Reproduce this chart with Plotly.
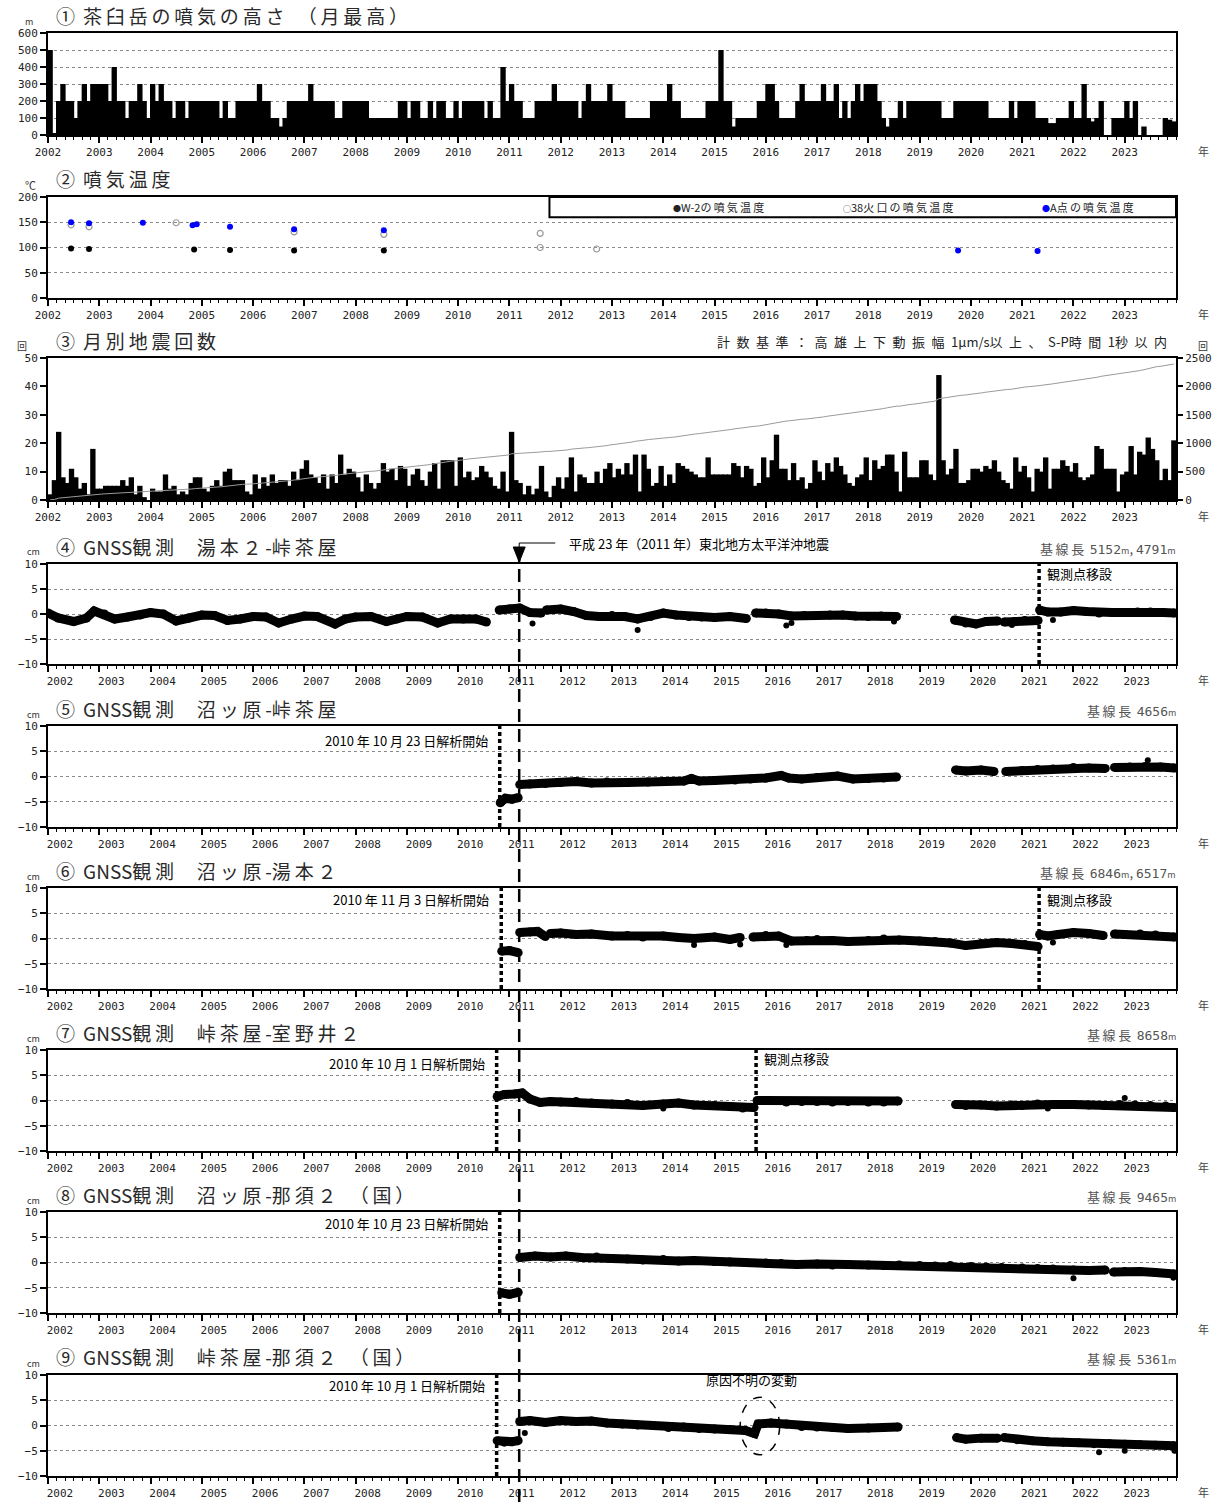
import plotly.graph_objects as go

# ---------------------------------------------------------------- geometry
W, H = 1223, 1503
XL, XR = 48, 1176                      # left / right edge of every plot frame (px)
PANELS_PX = [(33, 135), (197, 298), (358, 500), (564, 664), (726, 827),
             (888, 989), (1050, 1151), (1212, 1313), (1375, 1476)]
TITLE_Y = [15, 178, 340, 546, 708, 870, 1032, 1194, 1356]
X_RANGE = [2002, 2024]

YEARS = list(range(2002, 2024))
YEAR_LABELS = [str(y) for y in YEARS]

# ---------------------------------------------------------------- ① plume height (monthly max, m)
plume_height_m = [
    500, 10, 200, 300, 200, 200, 100, 200, 300, 200, 300, 300,   # 2002
    300, 300, 200, 400, 200, 200, 100, 200, 200, 300, 200, 100,  # 2003
    300, 200, 300, 200, 200, 100, 200, 200, 100, 200, 200, 200,  # 2004
    200, 200, 200, 200, 100, 200, 100, 100, 200, 200, 200, 200,  # 2005
    200, 300, 200, 200, 100, 100, 50, 100, 200, 200, 200, 200,   # 2006
    200, 300, 200, 200, 200, 200, 200, 100, 100, 200, 200, 200,  # 2007
    200, 200, 200, 100, 100, 100, 100, 100, 100, 100, 200, 200,  # 2008
    100, 200, 200, 100, 100, 200, 100, 200, 200, 100, 100, 200,  # 2009
    100, 200, 200, 200, 200, 200, 100, 200, 100, 100, 400, 200,  # 2010
    300, 200, 200, 100, 100, 100, 200, 200, 200, 200, 300, 200,  # 2011
    200, 200, 200, 200, 100, 200, 300, 200, 200, 200, 200, 300,  # 2012
    200, 200, 200, 100, 100, 100, 100, 100, 100, 200, 200, 200,  # 2013
    200, 300, 200, 200, 100, 100, 100, 100, 100, 100, 200, 200,  # 2014
    200, 500, 200, 200, 50, 100, 100, 100, 100, 100, 200, 200,   # 2015
    300, 300, 200, 100, 100, 100, 100, 200, 300, 200, 200, 200,  # 2016
    200, 300, 200, 200, 300, 100, 200, 100, 200, 300, 200, 300,  # 2017
    300, 300, 200, 100, 50, 100, 100, 200, 100, 200, 200, 200,   # 2018
    200, 200, 200, 200, 200, 100, 100, 100, 200, 200, 200, 200,  # 2019
    200, 200, 200, 200, 100, 100, 100, 100, 100, 200, 100, 200,  # 2020
    200, 200, 200, 100, 100, 100, 70, 70, 100, 100, 100, 200,    # 2021
    100, 100, 300, 100, 80, 100, 200, 0, 0, 100, 100, 100,       # 2022
    200, 100, 200, 0, 50, 0, 0, 0, 0, 100, 90, 80,               # 2023
]

# ---------------------------------------------------------------- ② fumarole temperature (°C)
w2_time = [2002.45, 2002.8, 2004.85, 2005.55, 2006.8, 2008.55]
w2_temp = [98, 97, 96, 95, 94, 94]
crater38_time = [2002.45, 2002.8, 2004.5, 2006.8, 2008.55, 2011.6, 2011.6, 2012.7]
crater38_temp = [145, 141, 149, 131, 126, 128, 100, 97]
pointA_time = [2002.45, 2002.8, 2003.85, 2004.82, 2004.9, 2005.55, 2006.8, 2008.55, 2019.75, 2021.3]
pointA_temp = [150, 148, 149, 144, 146, 141, 136, 134, 94, 93]

# ---------------------------------------------------------------- ③ monthly earthquake counts
quake_count = [
    2, 7, 24, 8, 6, 11, 8, 4, 6, 2, 18, 4,      # 2002
    4, 5, 5, 5, 5, 7, 5, 8, 2, 5, 1, 0,         # 2003
    4, 3, 3, 9, 4, 5, 2, 3, 2, 6, 8, 8,         # 2004
    4, 3, 5, 7, 5, 10, 11, 7, 7, 7, 3, 2,       # 2005
    9, 4, 8, 5, 9, 6, 7, 7, 5, 10, 7, 11,       # 2006
    14, 9, 8, 6, 9, 4, 9, 6, 16, 9, 11, 10,     # 2007
    8, 3, 9, 6, 4, 6, 13, 10, 11, 7, 12, 11,    # 2008
    5, 9, 11, 7, 5, 10, 13, 4, 14, 14, 14, 5,   # 2009
    15, 8, 10, 7, 8, 12, 10, 8, 5, 4, 10, 3,    # 2010
    24, 7, 6, 2, 5, 2, 4, 12, 3, 1, 5, 8,       # 2011
    4, 8, 15, 3, 9, 8, 6, 6, 10, 6, 11, 13,     # 2012
    8, 11, 9, 13, 9, 16, 3, 16, 11, 5, 6, 12,   # 2013
    5, 9, 6, 13, 12, 11, 10, 9, 8, 8, 15, 9,    # 2014
    9, 9, 9, 9, 13, 12, 8, 12, 11, 5, 6, 15,    # 2015
    8, 14, 23, 11, 11, 7, 13, 7, 8, 4, 6, 14,   # 2016
    10, 7, 13, 10, 15, 12, 9, 6, 5, 8, 9, 15,   # 2017
    7, 14, 11, 12, 16, 16, 10, 3, 17, 8, 8, 8,  # 2018
    14, 14, 9, 7, 44, 14, 9, 11, 18, 6, 6, 7,   # 2019
    11, 11, 10, 12, 11, 14, 10, 7, 6, 4, 15, 10,  # 2020
    12, 8, 3, 11, 10, 15, 4, 11, 11, 14, 12, 10,  # 2021
    13, 8, 7, 8, 9, 19, 18, 11, 11, 11, 3, 9,   # 2022
    10, 19, 9, 17, 16, 22, 18, 14, 7, 11, 7, 21,  # 2023
]

# ---------------------------------------------------------------- ④-⑨ GNSS baselines (cm); None = data gap
gnss_yumoto2_touge = [
    (2002.0, 0.2), (2002.2, -0.8), (2002.5, -1.5), (2002.75, -0.8), (2002.9, 0.6), (2003.1, 0.0),
    (2003.3, -1.0), (2003.55, -0.6), (2003.8, -0.2), (2004.0, 0.3), (2004.25, 0.0), (2004.5, -1.4),
    (2004.75, -0.8), (2005.0, -0.2), (2005.25, -0.3), (2005.5, -1.3), (2005.75, -1.0), (2006.0, -0.5),
    (2006.25, -0.6), (2006.5, -1.8), (2006.75, -1.0), (2007.0, -0.4), (2007.25, -0.5), (2007.6, -2.0),
    (2007.8, -1.0), (2008.0, -0.6), (2008.3, -0.5), (2008.6, -1.5), (2008.8, -1.0), (2009.0, -0.5),
    (2009.3, -0.6), (2009.6, -1.8), (2009.85, -1.0), (2010.1, -1.0), (2010.35, -1.0), (2010.55, -1.6),
    None,
    (2010.8, 0.8), (2011.0, 1.0), (2011.2, 1.2), (2011.4, 0.3), (2011.62, 0.2),
    None,
    (2011.72, 0.8), (2012.0, 1.0), (2012.25, 0.5), (2012.5, -0.3), (2012.75, -0.5), (2013.0, -0.3),
    (2013.25, -0.5), (2013.5, -1.0), (2013.75, -0.5), (2014.0, 0.2), (2014.25, -0.2), (2014.5, -0.5),
    (2014.75, -0.6), (2015.0, -0.7), (2015.3, -0.5), (2015.62, -0.9),
    None,
    (2015.8, 0.2), (2016.0, 0.2), (2016.25, 0.0), (2016.5, -0.4), (2016.75, -0.3), (2017.0, -0.3),
    (2017.25, -0.2), (2017.5, -0.2), (2017.75, -0.4), (2018.0, -0.5), (2018.25, -0.4), (2018.55, -0.5),
    None,
    (2019.68, -1.2), (2019.9, -1.8), (2020.1, -2.0), (2020.3, -1.5), (2020.52, -1.4),
    None,
    (2020.65, -1.6), (2020.85, -1.5), (2021.05, -1.3), (2021.31, -1.3),
    None,
    (2021.34, 0.8), (2021.5, 0.4), (2021.75, 0.4), (2022.0, 0.7), (2022.25, 0.5), (2022.5, 0.2),
    (2022.75, 0.3), (2023.0, 0.3), (2023.25, 0.4), (2023.5, 0.4), (2023.75, 0.3), (2023.97, 0.2),
]
gnss_yumoto2_touge_outliers = [(2011.45, -1.9), (2013.5, -3.2), (2016.4, -2.3), (2016.5, -1.8),
                               (2018.5, -1.5), (2020.8, -2.2), (2021.6, -1.2)]

gnss_numappara_touge = [
    (2010.82, -5.2), (2010.92, -4.3), (2011.05, -4.5), (2011.17, -4.2),
    None,
    (2011.2, -1.6), (2011.4, -1.5), (2011.7, -1.4), (2012.0, -1.2), (2012.3, -1.0), (2012.6, -1.3),
    (2012.9, -1.1), (2013.3, -1.2), (2013.7, -1.1), (2014.0, -1.0), (2014.4, -0.9), (2014.55, -0.4),
    (2014.7, -0.9), (2015.0, -0.8), (2015.4, -0.7), (2015.7, -0.5), (2016.0, -0.3), (2016.3, 0.2),
    (2016.45, -0.3), (2016.7, -0.5), (2017.0, -0.2), (2017.4, 0.1), (2017.7, -0.5), (2018.0, -0.4),
    (2018.3, -0.3), (2018.55, -0.1),
    None,
    (2019.7, 1.3), (2019.9, 1.1), (2020.2, 1.3), (2020.45, 1.0),
    None,
    (2020.68, 1.0), (2021.0, 1.2), (2021.3, 1.4), (2021.6, 1.5), (2022.0, 1.8), (2022.3, 1.7),
    (2022.62, 1.6),
    None,
    (2022.8, 1.8), (2023.1, 1.9), (2023.4, 2.0), (2023.7, 1.9), (2023.97, 1.7),
]
gnss_numappara_touge_outliers = [(2023.45, 3.2)]

gnss_numappara_yumoto2 = [
    (2010.85, -2.5), (2011.0, -2.4), (2011.17, -2.8),
    None,
    (2011.2, 1.2), (2011.4, 1.3), (2011.55, 1.4), (2011.7, 0.4),
    None,
    (2011.8, 1.0), (2012.0, 1.1), (2012.3, 0.8), (2012.6, 0.9), (2013.0, 0.5), (2013.3, 0.6),
    (2013.6, 0.3), (2014.0, 0.5), (2014.3, 0.2), (2014.6, 0.0), (2015.0, 0.3), (2015.3, -0.2),
    (2015.5, 0.2),
    None,
    (2015.75, 0.3), (2016.0, 0.6), (2016.25, 0.5), (2016.5, -0.5), (2016.8, -0.4), (2017.0, -0.2),
    (2017.3, -0.4), (2017.6, -0.6), (2018.0, -0.4), (2018.3, -0.1), (2018.6, -0.3), (2019.0, -0.5),
    (2019.3, -0.6), (2019.6, -0.9), (2019.9, -1.4), (2020.2, -1.0), (2020.5, -0.8), (2020.8, -1.0),
    (2021.05, -1.2), (2021.31, -1.6),
    None,
    (2021.34, 0.8), (2021.5, 0.5), (2021.7, 0.8), (2022.0, 1.2), (2022.3, 1.0), (2022.58, 0.6),
    None,
    (2022.8, 0.9), (2023.0, 0.8), (2023.3, 0.9), (2023.6, 0.7), (2023.97, 0.3),
]
gnss_numappara_yumoto2_outliers = [(2014.6, -1.3), (2015.5, -1.2), (2016.4, -1.3), (2021.6, -0.8)]

gnss_touge_muronoi2 = [
    (2010.76, 0.8), (2010.9, 1.2), (2011.1, 1.3), (2011.25, 1.5), (2011.4, 0.3), (2011.6, -0.4),
    (2011.8, -0.2), (2012.0, -0.3), (2012.3, -0.2), (2012.6, -0.5), (2013.0, -0.7), (2013.3, -0.6),
    (2013.6, -1.0), (2014.0, -0.7), (2014.3, -0.5), (2014.6, -0.9), (2015.0, -1.0), (2015.3, -1.2),
    (2015.55, -1.5), (2015.77, -1.4),
    None,
    (2015.83, 0.0), (2016.1, 0.0), (2016.4, -0.3), (2016.7, -0.2), (2017.0, -0.2), (2017.3, -0.3),
    (2017.6, -0.2), (2018.0, -0.3), (2018.3, -0.3), (2018.58, -0.1),
    None,
    (2019.7, -0.8), (2019.9, -1.0), (2020.2, -0.9), (2020.5, -1.1), (2020.8, -0.9), (2021.0, -1.0),
    (2021.3, -0.7), (2021.6, -0.8), (2022.0, -0.8), (2022.3, -0.9), (2022.6, -1.0), (2022.9, -0.8),
    (2023.2, -0.9), (2023.5, -1.0), (2023.8, -1.1), (2023.97, -1.4),
]
gnss_touge_muronoi2_outliers = [(2014.0, -1.6), (2021.5, -1.6), (2023.0, 0.5)]

gnss_numappara_nasu2 = [
    (2010.85, -6.0), (2011.0, -6.3), (2011.17, -5.9),
    None,
    (2011.2, 1.0), (2011.5, 1.3), (2011.8, 1.1), (2012.1, 1.3), (2012.4, 1.0), (2012.7, 1.1),
    (2013.0, 0.8), (2013.3, 0.7), (2013.6, 0.5), (2014.0, 0.6), (2014.3, 0.3), (2014.6, 0.4),
    (2015.0, 0.2), (2015.3, 0.1), (2015.6, 0.0), (2016.0, -0.1), (2016.3, -0.2), (2016.6, -0.4),
    (2017.0, -0.3), (2017.3, -0.5), (2017.6, -0.4), (2018.0, -0.5), (2018.3, -0.6), (2018.6, -0.5),
    (2019.0, -0.6), (2019.3, -0.7), (2019.6, -0.6), (2020.0, -0.8), (2020.3, -0.9), (2020.6, -1.0),
    (2021.0, -1.1), (2021.3, -1.2), (2021.6, -1.3), (2022.0, -1.5), (2022.3, -1.6), (2022.62, -1.5),
    None,
    (2022.78, -1.9), (2023.0, -1.8), (2023.3, -1.8), (2023.6, -2.0), (2023.97, -2.3),
]
gnss_numappara_nasu2_outliers = [(2022.0, -3.1), (2023.95, -3.0)]

gnss_touge_nasu2 = [
    (2010.76, -3.0), (2010.9, -3.3), (2011.05, -3.2), (2011.17, -3.0),
    None,
    (2011.2, 0.8), (2011.4, 1.0), (2011.7, 0.6), (2012.0, 1.0), (2012.3, 0.8), (2012.6, 0.9),
    (2012.9, 0.5), (2013.2, 0.3), (2013.5, 0.1), (2013.8, 0.0), (2014.1, -0.4), (2014.4, -0.3),
    (2014.7, -0.6), (2015.0, -0.7), (2015.3, -0.8), (2015.6, -1.0), (2015.78, -1.6), (2015.85, 0.3),
    (2016.1, 0.5), (2016.4, 0.3), (2016.7, -0.2), (2017.0, -0.3), (2017.3, -0.4), (2017.6, -0.6),
    (2018.0, -0.5), (2018.3, -0.4), (2018.58, -0.3),
    None,
    (2019.72, -2.4), (2019.9, -2.7), (2020.2, -2.5), (2020.52, -2.5),
    None,
    (2020.65, -2.4), (2020.9, -2.8), (2021.2, -3.0), (2021.5, -3.2), (2021.8, -3.3), (2022.1, -3.4),
    (2022.4, -3.6), (2022.7, -3.6), (2023.0, -3.7), (2023.3, -3.8), (2023.6, -3.9), (2023.97, -4.0),
]
gnss_touge_nasu2_outliers = [(2011.3, -1.5), (2022.5, -5.3), (2023.0, -5.0), (2023.97, -5.0)]

# key dates (decimal years)
quake_2011 = 2011.19            # 2011-03-11
start_oct01 = 2010.75           # 2010-10-01
start_oct23 = 2010.81           # 2010-10-23
start_nov03 = 2010.84           # 2010-11-03
relocation_2015 = 2015.81
relocation_2021 = 2021.33

# ---------------------------------------------------------------- helpers
def py(p):
    return 1 - p / H


def date_to_paper(t):
    return (XL + (t - X_RANGE[0]) / (X_RANGE[1] - X_RANGE[0]) * (XR - XL)) / W


def split_xy(pairs):
    xs, ys = [], []
    for p in pairs:
        if p is None:
            xs.append(None)
            ys.append(None)
        else:
            xs.append(p[0])
            ys.append(p[1])
    return xs, ys


def spaced(text, gap="\u2002"):
    """Open up the letter spacing after full-width characters."""
    out = []
    for ch in text:
        out.append(ch)
        if ord(ch) > 0x2400 and ch != "\u3000":
            out.append(gap)
    return "".join(out)


month_x = [y + (m + 0.5) / 12 for y in YEARS for m in range(12)]
cumulative = []
total = 0
for c in quake_count:
    total += c
    cumulative.append(total)

TICK_FONT = dict(family="DejaVu Sans Mono", size=11, color="#222")
YTICK_FONT = dict(family="DejaVu Sans Mono", size=11, color="#222")
JP = "Noto Sans CJK JP"
BAR_W = 1 / 12 * 1.25           # slight overlap so neighbouring months merge

fig = go.Figure()


def ax(n):
    return "" if n == 1 else str(n)


layout_axes = {}
for i, (top, bot) in enumerate(PANELS_PX, start=1):
    gnss = i >= 4
    layout_axes["xaxis" + ax(i)] = dict(
        domain=[XL / W, XR / W], range=X_RANGE, anchor="y" + ax(i), automargin=False,
        tickmode="array", tickvals=YEARS, ticktext=YEAR_LABELS,
        ticks="outside", ticklen=6, tickwidth=1.5, tickcolor="black",
        ticklabelshift=12 if gnss else 0,
        showline=True, linewidth=2, linecolor="black", mirror=True,
        showgrid=False, zeroline=False, tickfont=TICK_FONT,
        minor=dict(tick0=2002, dtick=1 / 6, ticks="outside", ticklen=3,
                   tickwidth=1, tickcolor="black", showgrid=False),
    )
    if i == 1:
        yr, yt = [0, 600], list(range(0, 601, 100))
    elif i == 2:
        yr, yt = [0, 200], list(range(0, 201, 50))
    elif i == 3:
        yr, yt = [0, 50], list(range(0, 51, 10))
    else:
        yr, yt = [-10, 10], [-10, -5, 0, 5, 10]
    layout_axes["yaxis" + ax(i)] = dict(
        domain=[py(bot), py(top)], range=yr, anchor="x" + ax(i), automargin=False,
        tickmode="array", tickvals=yt,
        ticks="outside", ticklen=6, tickwidth=1.5, tickcolor="black",
        showline=True, linewidth=2, linecolor="black", mirror=True,
        showgrid=(i != 3), gridcolor="#8a8a8a", griddash="dot", gridwidth=1,
        zeroline=False, tickfont=YTICK_FONT,
    )

layout_axes["yaxis10"] = dict(
    domain=layout_axes["yaxis3"]["domain"], range=[0, 2500], overlaying="y3", automargin=False,
    anchor="x3", side="right", tickmode="array", tickvals=list(range(0, 2501, 500)),
    ticks="outside", ticklen=6, tickwidth=1.5, tickcolor="black",
    showline=False, showgrid=False, zeroline=False, tickfont=YTICK_FONT,
)

# ① plume height bars
fig.add_trace(go.Bar(x=month_x, y=plume_height_m, width=BAR_W, marker=dict(color="black", line=dict(width=0)),
                     xaxis="x", yaxis="y"))

# ② temperatures
fig.add_trace(go.Scatter(x=crater38_time, y=crater38_temp, mode="markers", xaxis="x2", yaxis="y2",
                         marker=dict(symbol="circle-open", size=6, color="#9a9a9a", line=dict(width=1.2))))
fig.add_trace(go.Scatter(x=w2_time, y=w2_temp, mode="markers", xaxis="x2", yaxis="y2",
                         marker=dict(size=6, color="black")))
fig.add_trace(go.Scatter(x=pointA_time, y=pointA_temp, mode="markers", xaxis="x2", yaxis="y2",
                         marker=dict(size=6, color="#0000ff")))

# ③ earthquake counts + cumulative
fig.add_trace(go.Bar(x=month_x, y=quake_count, width=BAR_W, marker=dict(color="black", line=dict(width=0)),
                     xaxis="x3", yaxis="y3"))
fig.add_trace(go.Scatter(x=month_x, y=cumulative, mode="lines", xaxis="x3", yaxis="y10",
                         line=dict(color="#9a9a9a", width=1)))

# ④-⑨ GNSS baselines
gnss_sets = [
    (gnss_yumoto2_touge, gnss_yumoto2_touge_outliers),
    (gnss_numappara_touge, gnss_numappara_touge_outliers),
    (gnss_numappara_yumoto2, gnss_numappara_yumoto2_outliers),
    (gnss_touge_muronoi2, gnss_touge_muronoi2_outliers),
    (gnss_numappara_nasu2, gnss_numappara_nasu2_outliers),
    (gnss_touge_nasu2, gnss_touge_nasu2_outliers),
]
for k, (series, outl) in enumerate(gnss_sets):
    n = k + 4
    xs, ys = split_xy(series)
    fig.add_trace(go.Scatter(x=xs, y=ys, mode="lines+markers", connectgaps=False,
                             xaxis="x" + ax(n), yaxis="y" + ax(n),
                             line=dict(color="black", width=9), marker=dict(color="black", size=9)))
    ox, oy = split_xy(outl)
    fig.add_trace(go.Scatter(x=ox, y=oy, mode="markers", xaxis="x" + ax(n), yaxis="y" + ax(n),
                             marker=dict(color="black", size=6)))

# ---------------------------------------------------------------- annotations
ann = []
titles = [
    "① 茶臼岳の噴気の高さ　（月最高）",
    "② 噴気温度",
    "③ 月別地震回数",
    "④ GNSS観測　湯本２-峠茶屋",
    "⑤ GNSS観測　沼ッ原-峠茶屋",
    "⑥ GNSS観測　沼ッ原-湯本２",
    "⑦ GNSS観測　峠茶屋-室野井２",
    "⑧ GNSS観測　沼ッ原-那須２　（国）",
    "⑨ GNSS観測　峠茶屋-那須２　（国）",
]
for t, yc in zip(titles, TITLE_Y):
    ann.append(dict(x=54 / W, y=py(yc), xref="paper", yref="paper", text=spaced(t, "\u2009"),
                    showarrow=False, xanchor="left", yanchor="middle",
                    font=dict(family=JP, size=19, color="#2a2a2a")))

units = [("m", 29, 21, 9), ("℃", 30, 185, 11), ("回", 22, 346, 10)]
for (top, bot) in PANELS_PX[3:]:
    units.append(("cm", 33, top - 12, 9))
for txt, x, y, s in units:
    ann.append(dict(x=x / W, y=py(y), xref="paper", yref="paper", text=txt, showarrow=False,
                    xanchor="center", yanchor="middle", font=dict(family=JP, size=s, color="#333")))
ann.append(dict(x=1203 / W, y=py(346), xref="paper", yref="paper", text="回", showarrow=False,
                xanchor="center", yanchor="middle", font=dict(family=JP, size=10, color="#333")))

for (top, bot) in PANELS_PX:
    ann.append(dict(x=1203 / W, y=py(bot + 16), xref="paper", yref="paper", text="年", showarrow=False,
                    xanchor="center", yanchor="middle", font=dict(family=JP, size=11, color="#444")))

ann.append(dict(x=1176 / W, y=py(341), xref="paper", yref="paper",
                text=spaced("計数基準：高雄上下動振幅1μm/s以上、S-P時間1秒以内"), showarrow=False,
                xanchor="right", yanchor="middle", font=dict(family=JP, size=13, color="#222")))

# legend box of ②
DOT = "<span style='font-size:8px'>●</span>"
legend_items = [(DOT + spaced("W-2の噴気温度", "\u2009"), 2015.1),
                ("<span style='font-size:8px'>○</span>" + spaced("38火口の噴気温度", "\u2009"), 2018.6),
                ("<span style='font-size:8px;color:#0000ff'>●</span>" + spaced("A点の噴気温度", "\u2009"), 2022.3)]
for txt, xc in legend_items:
    ann.append(dict(x=xc, y=180, xref="x2", yref="y2", text=txt, showarrow=False,
                    xanchor="center", yanchor="middle", font=dict(family=JP, size=11, color="#222")))

M = "<span style='font-size:9px'>m</span>"
baselines = [("5152", "4791"), ("4656",), ("6846", "6517"), ("8658",), ("9465",), ("5361",)]
for vals, yc in zip(baselines, TITLE_Y[3:]):
    txt = spaced("基線長", "\u2009") + " " + ", ".join(
        f"<span style='font-family:DejaVu Sans Mono'>{v}</span>{M}" for v in vals)
    ann.append(dict(x=1178 / W, y=py(yc + 2), xref="paper", yref="paper", text=txt, showarrow=False,
                    xanchor="right", yanchor="middle", font=dict(family=JP, size=13, color="#555")))

SMALL = dict(family=JP, size=13, color="black")
ann.append(dict(x=567 / W, y=py(543), xref="paper", yref="paper",
                text="平成 23 年（2011 年）東北地方太平洋沖地震", showarrow=False,
                xanchor="left", yanchor="middle", font=SMALL))

start_notes = [(5, start_oct23, "2010 年 10 月 23 日解析開始", 740),
               (6, start_nov03, "2010 年 11 月 3 日解析開始", 899),
               (7, start_oct01, "2010 年 10 月 1 日解析開始", 1063),
               (8, start_oct23, "2010 年 10 月 23 日解析開始", 1223),
               (9, start_oct01, "2010 年 10 月 1 日解析開始", 1385)]
for n, t, txt, yc in start_notes:
    ann.append(dict(x=date_to_paper(t) - 10 / W, y=py(yc), xref="paper", yref="paper", text=txt,
                    showarrow=False, xanchor="right", yanchor="middle", font=SMALL))

reloc_notes = [(4, relocation_2021, 573), (6, relocation_2021, 899), (7, relocation_2015, 1058)]
for n, t, yc in reloc_notes:
    ann.append(dict(x=date_to_paper(t) + 6 / W, y=py(yc), xref="paper", yref="paper", text="観測点移設",
                    showarrow=False, xanchor="left", yanchor="middle", font=SMALL))

ann.append(dict(x=751 / W, y=py(1379), xref="paper", yref="paper", text="原因不明の変動",
                showarrow=False, xanchor="center", yanchor="middle", font=SMALL))

# ---------------------------------------------------------------- shapes
shapes = []
# legend frame in ②
shapes.append(dict(type="rect", xref="x2", yref="y2", x0=2011.78, x1=2024, y0=160, y1=200,
                   line=dict(color="black", width=2), fillcolor="white", layer="above"))

# 2011 earthquake dashed line through panels ④-⑨
qx = date_to_paper(quake_2011)
shapes.append(dict(type="line", xref="paper", yref="paper", x0=qx, x1=qx, y0=py(1502), y1=py(556),
                   line=dict(color="black", width=2.5, dash="13px,7px")))
shapes.append(dict(type="path", xref="paper", yref="paper",
                   path=f"M {qx - 6 / W},{py(547)} L {qx + 6 / W},{py(547)} L {qx},{py(562)} Z",
                   fillcolor="black", line=dict(color="black", width=1)))
shapes.append(dict(type="path", xref="paper", yref="paper",
                   path=f"M {qx},{py(547)} L {qx},{py(543)} L {qx + 36 / W},{py(543)}",
                   line=dict(color="black", width=1)))

# analysis-start and relocation dotted lines
for n, t, _, _ in start_notes:
    shapes.append(dict(type="line", xref="x" + ax(n), yref="y" + ax(n) + " domain", x0=t, x1=t, y0=0, y1=1.02,
                       line=dict(color="black", width=3.5, dash="4px,3px")))
for n, t, _ in reloc_notes:
    shapes.append(dict(type="line", xref="x" + ax(n), yref="y" + ax(n) + " domain", x0=t, x1=t, y0=0, y1=1,
                       line=dict(color="black", width=3.5, dash="4px,3px")))

# unexplained change marker in ⑨
shapes.append(dict(type="circle", xref="x9", yref="y9", x0=2015.5, x1=2016.27, y0=-5.8, y1=5.6,
                   line=dict(color="black", width=1.5, dash="dash")))

fig.update_layout(
    width=W, height=H, margin=dict(l=0, r=0, t=0, b=0, autoexpand=False),
    paper_bgcolor="white", plot_bgcolor="white", showlegend=False,
    annotations=ann, shapes=shapes, **layout_axes,
)

fig.write_html("out.html")
